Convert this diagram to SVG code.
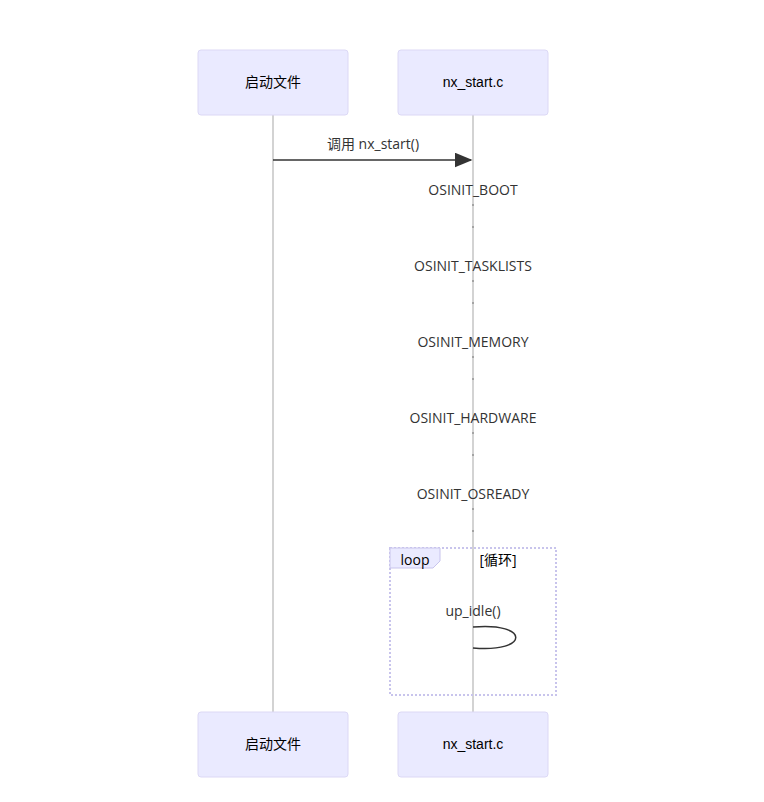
<svg xmlns="http://www.w3.org/2000/svg" width="764" height="802" viewBox="0 0 764 802">
<style>
.actor{fill:#eaeaff;stroke:#dcd8f5;stroke-width:1}
.at{font-family:"Liberation Sans","Noto Sans CJK SC",sans-serif;font-size:14px;fill:#000;text-anchor:middle}
.life{stroke:#d3d3d3;stroke-width:2}
.msg{font-family:"Open Sans","Noto Sans CJK SC",sans-serif;font-size:14px;fill:#333;text-anchor:middle}
.dot{fill:#666}
</style>
<defs><marker id="ah" viewBox="0 0 12 10" refX="11" refY="5" markerWidth="12" markerHeight="10" orient="auto"><path d="M0,0 L12,5 L0,10 z" fill="#333"/></marker></defs>
<rect width="764" height="802" fill="#fff"/>
<g id="lifelines">
<line class="life" x1="273" y1="115" x2="273" y2="712"/>
<line class="life" x1="473" y1="115" x2="473" y2="712"/>
</g>
<g id="actor-start-top"><rect class="actor" x="198" y="50" width="150" height="65" rx="3"/><text class="at" x="273" y="87">启动文件</text></g>
<g id="actor-nx-top"><rect class="actor" x="398" y="50" width="150" height="65" rx="3"/><text class="at" x="473" y="87">nx_start.c</text></g>
<g id="actor-start-bottom"><rect class="actor" x="198" y="712" width="150" height="65" rx="3"/><text class="at" x="273" y="749">启动文件</text></g>
<g id="actor-nx-bottom"><rect class="actor" x="398" y="712" width="150" height="65" rx="3"/><text class="at" x="473" y="749">nx_start.c</text></g>
<g id="loop">
<rect x="390" y="548" width="166" height="147" fill="none" stroke="#c8c4ec" stroke-width="2" stroke-dasharray="2,2"/>
<path d="M390,548 H440 V561 L433,568 H390 Z" fill="#eaeaff" stroke="#c8c4ec"/>
<text class="msg" x="415" y="565" fill="#000" style="fill:#000">loop</text>
<text class="msg" x="498" y="565" style="fill:#000">[循环]</text>
</g>
<g id="connectors">
<line x1="273" y1="160" x2="471" y2="160" stroke="#333" stroke-width="1.5" marker-end="url(#ah)"/>
<text class="msg" x="373" y="149">调用 nx_start()</text>
<text class="msg" x="473" y="195">OSINIT_BOOT</text>
<circle class="dot" cx="473" cy="205" r="0.8"/><circle class="dot" cx="473" cy="227" r="0.8"/>
<text class="msg" x="473" y="271">OSINIT_TASKLISTS</text>
<circle class="dot" cx="473" cy="281" r="0.8"/><circle class="dot" cx="473" cy="303" r="0.8"/>
<text class="msg" x="473" y="347">OSINIT_MEMORY</text>
<circle class="dot" cx="473" cy="357" r="0.8"/><circle class="dot" cx="473" cy="379" r="0.8"/>
<text class="msg" x="473" y="423">OSINIT_HARDWARE</text>
<circle class="dot" cx="473" cy="433" r="0.8"/><circle class="dot" cx="473" cy="455" r="0.8"/>
<text class="msg" x="473" y="499">OSINIT_OSREADY</text>
<circle class="dot" cx="473" cy="509" r="0.8"/><circle class="dot" cx="473" cy="531" r="0.8"/>
<text class="msg" x="473" y="616">up_idle()</text>
<path d="M473,627 C530,622 530,653 473,648" fill="none" stroke="#333" stroke-width="1.5"/>
</g>
</svg>
